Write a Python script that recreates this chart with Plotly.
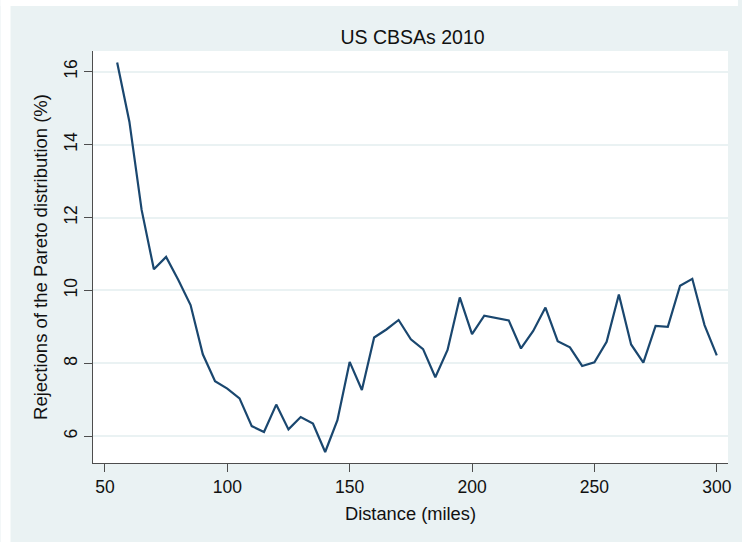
import plotly.graph_objects as go

# Distance threshold (miles) and share of CBSAs rejecting the Pareto fit (%)
distance = [55, 60, 65, 70, 75, 80, 85, 90, 95, 100,
            105, 110, 115, 120, 125, 130, 135, 140, 145, 150,
            155, 160, 165, 170, 175, 180, 185, 190, 195, 200,
            205, 210, 215, 220, 225, 230, 235, 240, 245, 250,
            255, 260, 265, 270, 275, 280, 285, 290, 295, 300]
rejections = [16.25, 14.63, 12.21, 10.58, 10.92, 10.29, 9.60, 8.25, 7.51, 7.31,
              7.04, 6.28, 6.12, 6.87, 6.19, 6.53, 6.35, 5.57, 6.44, 8.04,
              7.27, 8.71, 8.93, 9.19, 8.66, 8.39, 7.62, 8.37, 9.81, 8.80,
              9.31, 9.25, 9.18, 8.41, 8.89, 9.53, 8.61, 8.44, 7.93, 8.03,
              8.59, 9.89, 8.52, 8.02, 9.03, 9.00, 10.13, 10.32, 9.05, 8.22]

x_ticks = [50, 100, 150, 200, 250, 300]
y_ticks = [6, 8, 10, 12, 14, 16]

BG = "#EAF2F3"
NAVY = "#1A476F"
AXIS = "#4d4d4d"
FONT = "Liberation Sans, Arial, sans-serif"

W, H = 742, 542
ML, MR, MT, MB = 93, 10, 51, 79
PW, PH = W - ML - MR, H - MT - MB


def px_x(p):
    return (p - ML) / PW


def px_y(p):
    return (H - MB - p) / PH


fig = go.Figure()
fig.add_trace(go.Scatter(
    x=distance, y=rejections, mode="lines",
    line=dict(color=NAVY, width=2.2),
    hoverinfo="skip", showlegend=False,
))

# white border strips around the shaded graph region
fig.add_shape(type="rect", xref="paper", yref="paper",
              x0=px_x(0), x1=px_x(W), y0=px_y(6), y1=px_y(0),
              fillcolor="white", line_width=0, layer="below")
fig.add_shape(type="rect", xref="paper", yref="paper",
              x0=px_x(0), x1=px_x(10), y0=px_y(H), y1=px_y(0),
              fillcolor="white", line_width=0, layer="below")

fig.update_layout(
    width=W, height=H,
    margin=dict(l=ML, r=MR, t=MT, b=MB),
    paper_bgcolor=BG, plot_bgcolor="white",
    font=dict(family=FONT, size=17, color="#111"),
    title=dict(text="US CBSAs 2010", x=(ML + PW / 2) / W, xanchor="center",
               y=1 - 37 / H, yanchor="middle",
               font=dict(family=FONT, size=19.5, color="#111")),
    xaxis=dict(
        range=[45.13, 304.59], tickvals=x_ticks,
        ticks="outside", ticklen=8, tickcolor=AXIS, tickwidth=1,
        showline=True, linecolor=AXIS, linewidth=1,
        showgrid=False, zeroline=False,
        tickfont=dict(size=17.5),
        title=dict(text="Distance (miles)", font=dict(size=18.3), standoff=11),
    ),
    yaxis=dict(
        range=[5.268, 16.568], tickvals=y_ticks,
        ticks="outside", ticklen=8, tickcolor=AXIS, tickwidth=1,
        tickangle=-90,
        showline=True, linecolor=AXIS, linewidth=1,
        showgrid=True, gridcolor=BG, gridwidth=1.5, zeroline=False,
        tickfont=dict(size=17.5),
        title=dict(text="Rejections of the Pareto distribution (%)",
                   font=dict(size=18.5), standoff=8),
    ),
)

fig.write_html("out.html")
